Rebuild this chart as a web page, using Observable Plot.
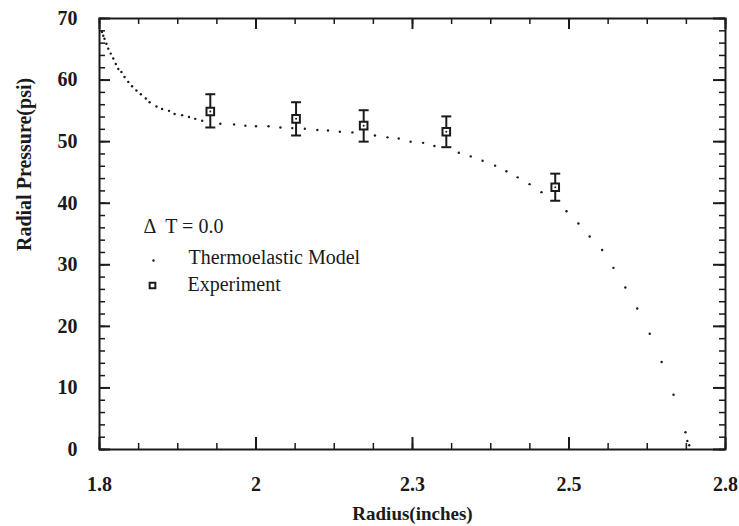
<!DOCTYPE html>
<html><head><meta charset="utf-8">
<script src="https://cdn.jsdelivr.net/npm/d3@7"></script>
<script src="https://cdn.jsdelivr.net/npm/@observablehq/plot@0.6"></script>
<style>body{margin:0;background:#fff} svg{display:block}</style>
</head><body><div id="chart"></div>
<script>
// Thermoelastic model (dotted curve)
const modelX = [1.804,1.806,1.808,1.811,1.814,1.818,1.822,1.826,1.830,1.835,1.840,1.846,1.852,1.859,1.866,1.874,1.880,1.891,1.900,1.911,1.920,1.932,1.943,1.953,1.964,1.993,2.015,2.033,2.050,2.070,2.089,2.108,2.128,2.148,2.165,2.184,2.204,2.240,2.260,2.278,2.297,2.317,2.335,2.374,2.393,2.412,2.432,2.450,2.468,2.487,2.506,2.546,2.565,2.583,2.603,2.621,2.640,2.659,2.679,2.698,2.717,2.736,2.739,2.742];
const modelY = [67.8,67.2,66.7,65.9,65.1,64.3,63.5,62.6,61.8,61.3,60.5,59.7,59.0,58.3,57.7,57.0,56.4,55.7,55.3,55.0,54.5,54.3,54.0,53.7,53.4,52.9,52.8,52.6,52.5,52.5,52.3,52.2,52.1,51.9,51.8,51.6,51.5,51.0,50.7,50.5,50.0,49.8,49.3,48.2,47.6,46.9,46.1,45.2,44.2,43.1,41.8,38.7,36.7,34.6,32.4,29.5,26.3,22.9,18.8,14.2,8.9,2.8,1.4,0.7];

// Experiment with error bars
const expX  = [1.977, 2.114, 2.222, 2.354, 2.528];
const expY  = [54.9, 53.7, 52.6, 51.6, 42.6];
const expLo = [52.3, 51.0, 50.0, 49.1, 40.4];
const expHi = [57.7, 56.4, 55.1, 54.1, 44.8];

// Axes
const xTicks = [1.8, 2.05, 2.3, 2.55, 2.8];
const xTickLabels = ["1.8", "2", "2.3", "2.5", "2.8"];
const xMinorTicks = d3.range(0, 17).map(i => 1.8 + i * 0.0625);
const yTicks = [0, 10, 20, 30, 40, 50, 60, 70];
const yMinorTicks = d3.range(0, 71, 2);

const legendTitle = "\u0394  T = 0.0";
const legendModel = "Thermoelastic Model";
const legendExp = "Experiment";
const xTitle = "Radius(inches)";
const yTitle = "Radial Pressure(psi)";

const model = modelX.map((x, i) => ({x, y: modelY[i]}));
const exp = expX.map((x, i) => ({x, y: expY[i], lo: expLo[i], hi: expHi[i]}));

const W = 739, H = 526, ML = 99, MR = 14, MT = 18, MB = 77;
const FW = W - ML - MR, FH = H - MT - MB;

const capSymbol = {draw(ctx, size) { const r = Math.sqrt(size / Math.PI); ctx.moveTo(-r, 0); ctx.lineTo(r, 0); }};

const serif = "'Liberation Serif', 'Times New Roman', serif";

const chart = Plot.plot({
  width: W, height: H,
  marginLeft: ML, marginRight: MR, marginTop: MT, marginBottom: MB,
  style: {fontFamily: serif, fontSize: "18px", color: "#1a1a1a", background: "#fff"},
  x: {domain: [1.8, 2.8]},
  y: {domain: [0, 70]},
  marks: [
    // ticks (inward)
    Plot.tickY(yMinorTicks, {y: d => d, insetRight: FW - 6, stroke: "#1a1a1a", strokeWidth: 1.5}),
    Plot.tickY(yTicks, {y: d => d, insetRight: FW - 11, stroke: "#1a1a1a", strokeWidth: 2}),
    Plot.tickY(yMinorTicks, {y: d => d, insetLeft: FW - 6, stroke: "#1a1a1a", strokeWidth: 1.5}),
    Plot.tickY(yTicks, {y: d => d, insetLeft: FW - 12, stroke: "#1a1a1a", strokeWidth: 2}),
    Plot.tickX(xMinorTicks, {x: d => d, insetTop: FH - 6, stroke: "#1a1a1a", strokeWidth: 1.5}),
    Plot.tickX(xTicks, {x: d => d, insetTop: FH - 12, stroke: "#1a1a1a", strokeWidth: 2}),
    Plot.tickX(xMinorTicks, {x: d => d, insetBottom: FH - 6, stroke: "#1a1a1a", strokeWidth: 1.5}),
    Plot.tickX(xTicks, {x: d => d, insetBottom: FH - 11, stroke: "#1a1a1a", strokeWidth: 2}),
    Plot.frame({stroke: "#1a1a1a", strokeWidth: 2}),
    // tick labels
    Plot.axisY({ticks: yTicks, tickSize: 0, tickPadding: 22, label: null, fontWeight: "bold", fontSize: 20}),
    Plot.axisX({ticks: xTicks, tickFormat: (d) => xTickLabels[xTicks.indexOf(d)], tickSize: 0, tickPadding: 27, label: null, fontWeight: "bold", fontSize: 20}),
    // axis titles
    Plot.text([xTitle], {frameAnchor: "bottom", dy: 64, lineAnchor: "middle", fontWeight: "bold", fontSize: 19}),
    Plot.text([yTitle], {frameAnchor: "left", rotate: -90, dx: -75, dy: 17, lineAnchor: "middle", fontWeight: "bold", fontSize: 20}),
    // model
    Plot.dot(model, {x: "x", y: "y", r: 1.2, fill: "#1a1a1a"}),
    // experiment
    Plot.ruleX(exp, {x: "x", y1: "lo", y2: "hi", stroke: "#1a1a1a", strokeWidth: 2}),
    Plot.dot(exp, {x: "x", y: "hi", r: 5, symbol: capSymbol, stroke: "#1a1a1a", strokeWidth: 2, fill: "none"}),
    Plot.dot(exp, {x: "x", y: "lo", r: 5, symbol: capSymbol, stroke: "#1a1a1a", strokeWidth: 2, fill: "none"}),
    Plot.dot(exp, {x: "x", y: "y", r: 4.3, symbol: "square", stroke: "#1a1a1a", strokeWidth: 2, fill: "#fff"}),
    Plot.dot(exp, {x: "x", y: "y", r: 1, fill: "#1a1a1a"}),
    // legend
    Plot.text([legendTitle], {frameAnchor: "top-left", dx: 44, dy: 208, textAnchor: "start", lineAnchor: "middle", fontSize: 20}),
    Plot.dot([0], {frameAnchor: "top-left", dx: 54, dy: 242, r: 1.2, fill: "#1a1a1a"}),
    Plot.text([legendModel], {frameAnchor: "top-left", dx: 89, dy: 239, textAnchor: "start", lineAnchor: "middle", fontSize: 20}),
    Plot.dot([0], {frameAnchor: "top-left", dx: 53, dy: 267, r: 3.2, symbol: "square", stroke: "#1a1a1a", strokeWidth: 2, fill: "#fff"}),
    Plot.text([legendExp], {frameAnchor: "top-left", dx: 88, dy: 266, textAnchor: "start", lineAnchor: "middle", fontSize: 20})
  ]
});
document.getElementById("chart").appendChild(chart);
</script>
</body></html>
